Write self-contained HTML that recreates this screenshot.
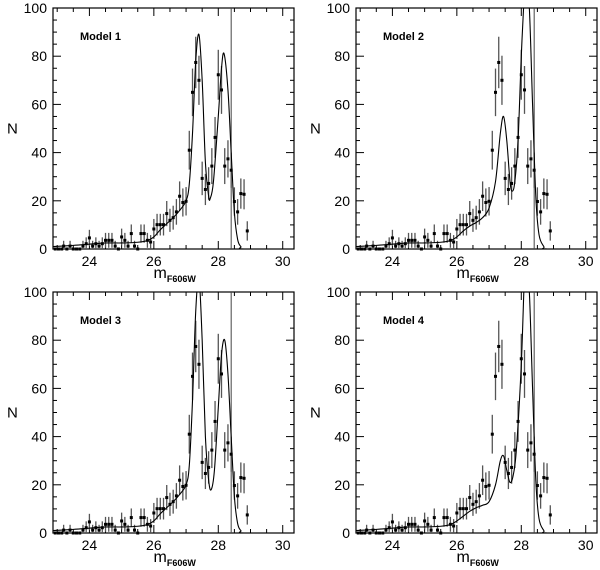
<!DOCTYPE html>
<html><head><meta charset="utf-8">
<style>
html,body{margin:0;padding:0;background:#fff;width:600px;height:570px;overflow:hidden}
svg{display:block}
text{font-family:"Liberation Sans",sans-serif;fill:#000}
</style></head>
<body>
<svg id="chart" width="600" height="570" viewBox="0 0 600 570" xmlns="http://www.w3.org/2000/svg"></svg>
<script>
// Observed luminosity function (shared by all panels)
const obsMag = [22.94,23.04,23.14,23.2,23.3,23.4,23.5,23.6,23.7,23.8,23.9,24.0,24.1,24.2,24.3,24.4,24.5,24.6,24.7,24.8,24.9,25.0,25.1,25.2,25.3,25.4,25.5,25.6,25.7,25.8,25.9,26.0,26.1,26.2,26.3,26.4,26.5,26.6,26.7,26.8,26.9,27.0,27.1,27.2,27.3,27.4,27.5,27.6,27.7,27.8,27.9,28.0,28.1,28.2,28.3,28.4,28.5,28.6,28.7,28.8,28.9];
const obsN   = [0,0,0,1.2,0,1.2,0,0,0,1.2,2.2,4.6,1.2,2.2,1.2,2.2,3.6,3.6,3.6,1.2,0,5.0,3.6,1.2,6.4,1.2,0,6.4,6.4,3.6,2.9,8.3,10.1,10.1,10.1,14.7,11.9,13.0,15.4,21.9,19.3,19.8,41,65,77.4,70,29.3,24.7,27.2,34.4,46.3,72.3,66,34.4,37.4,32.7,19.7,15.4,23,22.7,7.5];
// Model curves (sampled from the figure)
const model1Mag = [22.85,23.5,24,24.5,25,25.5,25.8,26.0,26.2,26.4,26.6,26.8,27.0,27.1,27.2,27.3,27.4,27.5,27.6,27.7,27.75,27.85,28.0,28.1,28.18,28.3,28.4,28.5,28.6,28.7,28.8,30.35];
const model1N   = [1,1.5,2,2.5,2.5,2.8,3.5,5,8,10.5,13,16,20,27,48,78,89,70,36,22,21,28,55,75,81,66,40,15,4,1,0,0];
const model2Mag = [22.85,23.5,24,24.5,25,25.5,25.8,26.0,26.2,26.4,26.6,26.8,27.0,27.2,27.35,27.45,27.55,27.65,27.72,27.8,27.9,28.0,28.1,28.15,28.25,28.35,28.45,28.55,28.7,28.8,30.35];
const model2N   = [1,1.5,2,2.5,2.5,2.8,3.5,5,7.5,9.5,11,13,17,28,48,55,45,28,24,28,45,80,108,112,100,60,22,6,1,0,0];
const model3Mag = [22.85,23.5,24,24.5,25,25.5,25.8,26.0,26.2,26.4,26.6,26.8,27.0,27.1,27.2,27.3,27.4,27.5,27.6,27.7,27.78,27.88,28.0,28.1,28.2,28.3,28.4,28.5,28.6,28.7,28.8,30.35];
const model3N   = [1,1.5,2,2.5,2.5,2.8,3.5,5,8,10.5,13,16,20,28,55,92,106,80,40,22,18,26,52,74,80,66,40,15,4,1,0,0];
const model4Mag = [22.85,23.5,24,24.5,25,25.5,25.8,26.0,26.2,26.4,26.6,26.8,27.0,27.2,27.35,27.45,27.55,27.65,27.75,27.85,28.0,28.1,28.15,28.25,28.35,28.45,28.55,28.7,28.8,30.35];
const model4N   = [1,1.5,2,2.5,2.5,2.8,3.5,5,7,9,10.5,11.5,13,20,30,32,26,21,24,35,70,108,114,100,60,22,6,1,0,0];
const modelNames = ["Model 1","Model 2","Model 3","Model 4"];
const xTicks = [24,26,28,30];
const yTicks = [0,20,40,60,80,100];
const cutoffMag = 28.4;

const NS="http://www.w3.org/2000/svg";
const svg=document.getElementById('chart');
function mk(tag,attrs,parent){const e=document.createElementNS(NS,tag);for(const k in attrs)e.setAttribute(k,attrs[k]);(parent||svg).appendChild(e);return e;}

const panels=[
 {x0:53,y0:8,mag:model1Mag,n:model1N},
 {x0:356,y0:8,mag:model2Mag,n:model2N},
 {x0:53,y0:292,mag:model3Mag,n:model3N},
 {x0:356,y0:292,mag:model4Mag,n:model4N}];
const W=241,H=241,XMIN=22.87,XMAX=30.35,YMAX=100;

panels.forEach((p,i)=>{
  const g=mk('g',{});
  
  
  const sx=m=>p.x0+(m-XMIN)/(XMAX-XMIN)*W;
  const sy=v=>p.y0+H-v/YMAX*H;
  const cid='clip'+i;
  const cp=mk('clipPath',{id:cid},g);mk('rect',{x:p.x0,y:p.y0,width:W,height:H},cp);
  const fr=mk('rect',{x:p.x0,y:p.y0,width:W,height:H,fill:'none',stroke:'#000','stroke-width':1.2},g);
  
  
  for(let m=23;m<=30.01;m+=0.5){
    const major=Math.abs(m-Math.round(m/2)*2)<1e-6;const L=major?8:4;const x=sx(m);
    mk('line',{x1:x,y1:p.y0+H,x2:x,y2:p.y0+H-L,stroke:'#000','stroke-width':1},g);
    mk('line',{x1:x,y1:p.y0,x2:x,y2:p.y0+L,stroke:'#000','stroke-width':1},g);
  }
  for(let v=0;v<=100;v+=5){
    const major=v%20===0;const L=major?8:4;const y=sy(v);
    mk('line',{x1:p.x0,y1:y,x2:p.x0+L,y2:y,stroke:'#000','stroke-width':1},g);
    mk('line',{x1:p.x0+W,y1:y,x2:p.x0+W-L,y2:y,stroke:'#000','stroke-width':1},g);
  }
  xTicks.forEach(t=>{const e=mk('text',{x:sx(t),y:p.y0+H+17,'text-anchor':'middle','font-size':14},g);e.textContent=t;
    });
  yTicks.forEach(t=>{const e=mk('text',{x:p.x0-6,y:sy(t)+5,'text-anchor':'end','font-size':14},g);e.textContent=t;
    });
  const yl=mk('text',{x:p.x0-46,y:p.y0+H/2+5,'font-size':15,'font-family':'Liberation Serif, serif'},g);yl.textContent='N';
  
  const xl=mk('text',{x:p.x0+W/2-20,y:p.y0+H+29,'font-size':16,'font-family':'Liberation Serif, serif'},g);
  
  xl.appendChild(document.createTextNode('m'));
  const ts=mk('tspan',{'font-size':9,dy:4,'font-weight':'bold'},xl);ts.textContent='F606W';
  const lab=mk('text',{x:p.x0+27,y:p.y0+32,'font-size':11,'font-weight':'bold','font-family':'Liberation Serif, serif'},g);
  lab.textContent=modelNames[i];
  
  const cl=mk('line',{x1:sx(cutoffMag),y1:p.y0,x2:sx(cutoffMag),y2:p.y0+H,stroke:'#444','stroke-width':1},g);
  
  obsMag.forEach((m,k)=>{
    const v=obsN[k];const x=sx(m);
    if(v>0){const er=1.1*Math.sqrt(v)+1;
      const eb=mk('line',{x1:x,y1:sy(v+er),x2:x,y2:sy(Math.max(0,v-er)),stroke:'#555','stroke-width':1.3},g);
      }
    const pt=mk('rect',{x:x-1.5,y:sy(v)-1.5,width:3,height:3,fill:'#000'},g);
    
  });
  const pts=p.mag.map((m,k)=>[sx(m),sy(p.n[k])]);
  let d='M'+pts[0][0]+','+pts[0][1];
  for(let k=0;k<pts.length-1;k++){
    const a=pts[Math.max(0,k-1)],b=pts[k],c=pts[k+1],e=pts[Math.min(pts.length-1,k+2)];
    const c1=[b[0]+(c[0]-a[0])/6,b[1]+(c[1]-a[1])/6],c2=[c[0]-(e[0]-b[0])/6,c[1]-(e[1]-b[1])/6];
    d+=' C'+c1.join(',')+' '+c2.join(',')+' '+c.join(',');
  }
  const path=mk('path',{d:d,fill:'none',stroke:'#000','stroke-width':1.1,'clip-path':'url(#'+cid+')'},g);
  
});
</script>
</body></html>
